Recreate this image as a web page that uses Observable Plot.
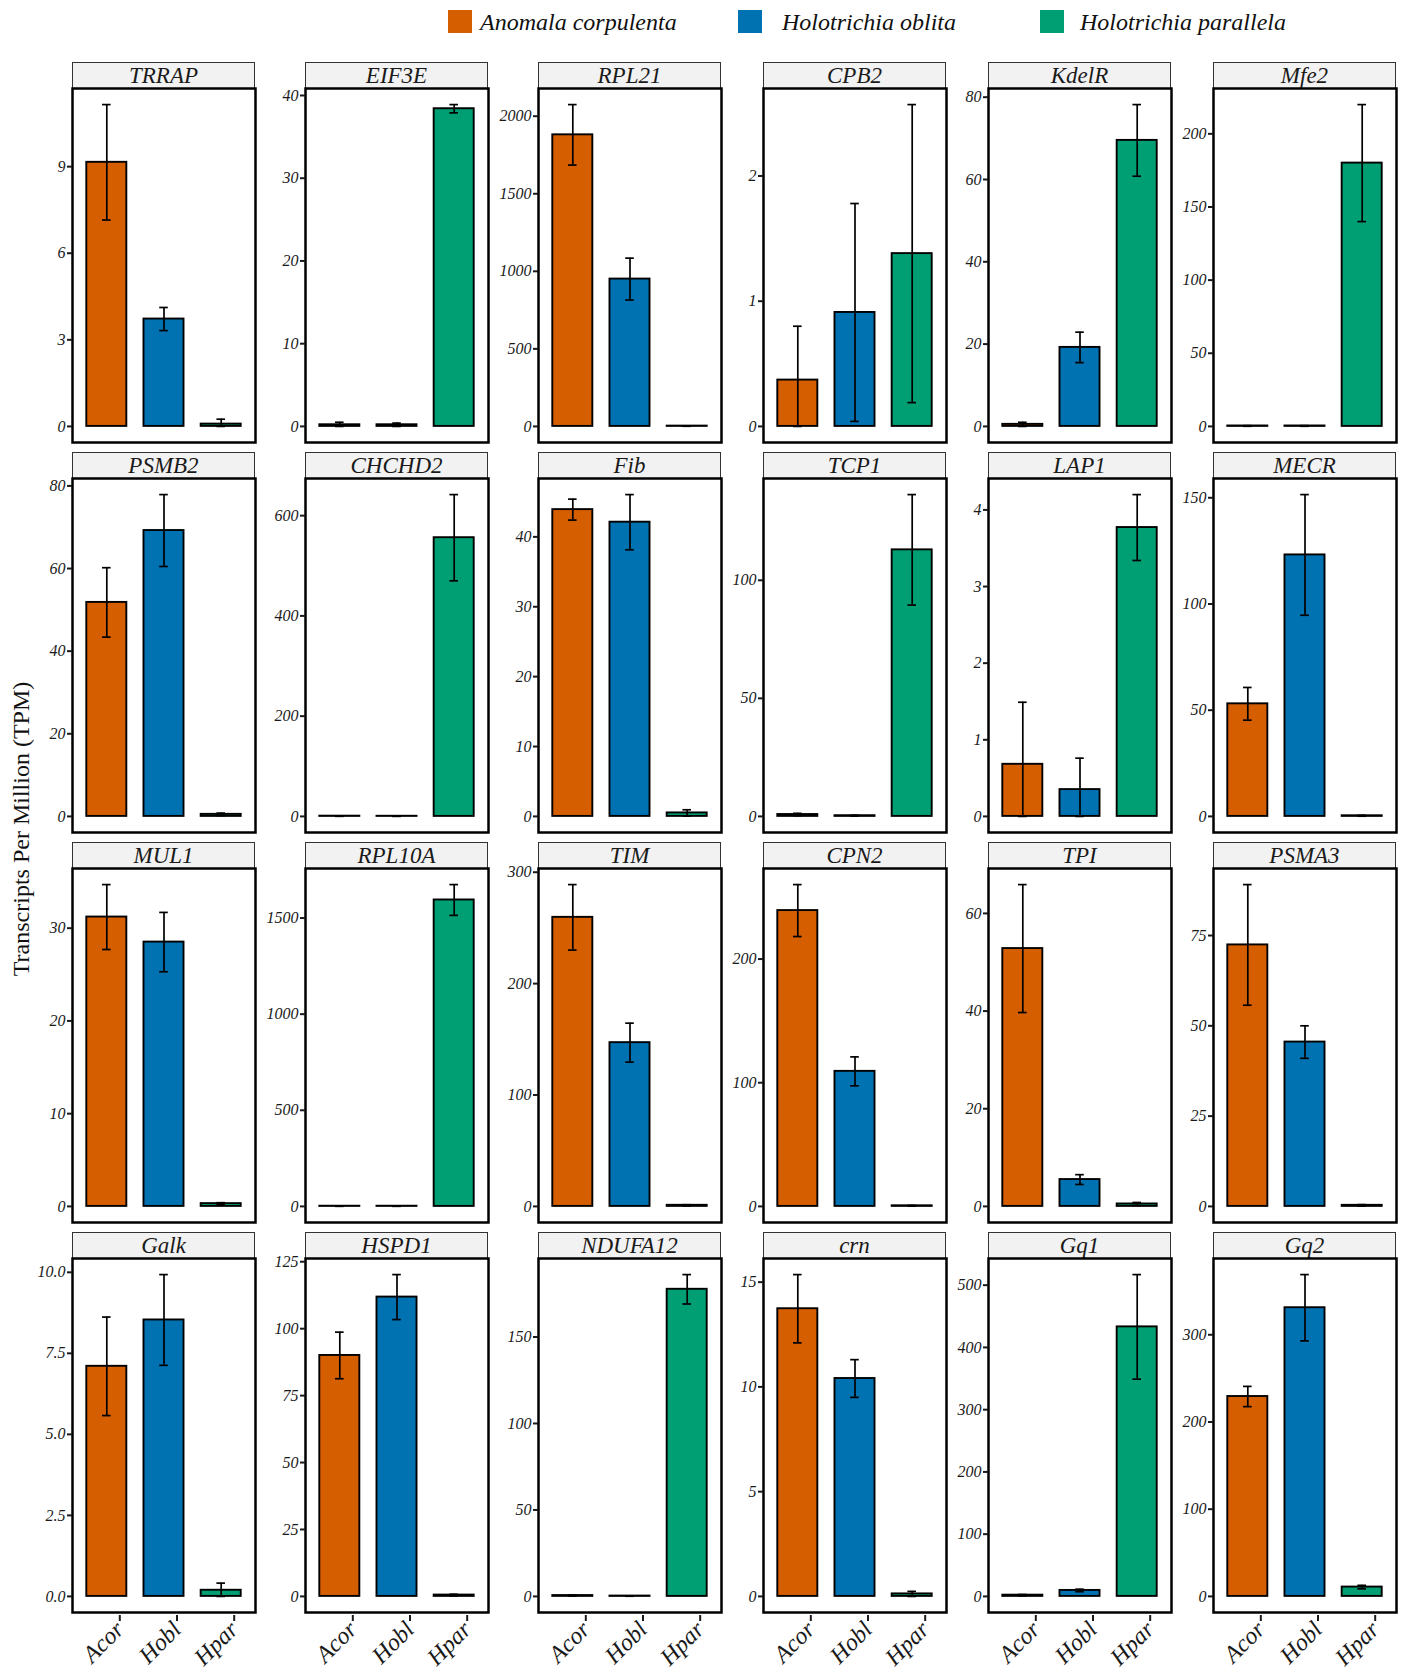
<!DOCTYPE html>
<html><head><meta charset="utf-8">
<script src="https://cdn.jsdelivr.net/npm/d3@7"></script>
<script src="https://cdn.jsdelivr.net/npm/@observablehq/plot@0.6"></script>
<style>
body{margin:0;background:#fff;}
#root{position:relative;width:1406px;height:1674px;background:#fff;font-family:"Liberation Serif","Times New Roman",serif;overflow:hidden;}
.strip{position:absolute;box-sizing:border-box;border:1px solid #333;background:#f2f2f2;text-align:center;font-style:italic;font-size:23px;line-height:25px;color:#1a1a1a;}
.panel{position:absolute;}
.panel svg{max-width:none;overflow:visible;}
.leg-key{position:absolute;width:24px;height:23px;}
.leg-txt{position:absolute;font-style:italic;font-size:24px;line-height:24px;color:#111;white-space:nowrap;}
.ytitle{position:absolute;font-size:24px;white-space:nowrap;color:#111;transform:translate(-50%,-50%) rotate(-90deg);}
</style></head><body><div id="root"></div>
<script>
// ---- data ----
const genes = ["TRRAP","EIF3E","RPL21","CPB2","KdelR","Mfe2",
               "PSMB2","CHCHD2","Fib","TCP1","LAP1","MECR",
               "MUL1","RPL10A","TIM","CPN2","TPI","PSMA3",
               "Galk","HSPD1","NDUFA12","crn","Gq1","Gq2"];
const speciesShort = ["Acor","Hobl","Hpar"];
const speciesFull = ["Anomala corpulenta","Holotrichia oblita","Holotrichia parallela"];
const speciesColors = ["#D55E00","#0072B2","#009E73"];

const acorMean = [9.15,0.2,1880,0.37,0.5,0.3, 51.8,0.5,43.9,0.8,0.68,53.0, 31.2,1,259.5,239.2,52.8,72.4, 7.1,90.0,0.5,13.73,2,229.2];
const acorSE   = [2.0,0.3,195,0.43,0.5,0.2, 8.4,0.3,1.5,0.5,0.81,7.7, 3.5,0.5,29.4,21,13.1,16.7, 1.52,8.7,0.3,1.63,1,11.6];
const hoblMean = [3.72,0.2,950,0.91,19.2,0.3, 69.2,0.3,42.1,0.3,0.35,123.1, 28.5,1,147,109.2,5.5,45.5, 8.53,111.8,0.2,10.4,9.6,331];
const hoblSE   = [0.4,0.2,135,0.87,3.7,0.2, 8.7,0.2,3.95,0.2,0.41,28.4, 3.2,0.5,17.5,11.7,1.0,4.5, 1.4,8.4,0.1,0.9,2,38];
const hparMean = [0.08,38.4,2,1.38,69.5,180, 0.5,556,0.5,112.9,3.77,0.3, 0.3,1594,1,0.5,0.5,0.3, 0.19,0.5,177.6,0.12,433,10.7];
const hparSE   = [0.17,0.5,1,1.19,8.7,40, 0.3,86,0.45,23.4,0.43,0.2, 0.1,80,0.5,0.3,0.3,0.2, 0.22,0.3,8.5,0.12,84,2];

const yTicks = [[0,3,6,9],[0,10,20,30,40],[0,500,1000,1500,2000],[0,1,2],[0,20,40,60,80],[0,50,100,150,200],
                [0,20,40,60,80],[0,200,400,600],[0,10,20,30,40],[0,50,100],[0,1,2,3,4],[0,50,100,150],
                [0,10,20,30],[0,500,1000,1500],[0,100,200,300],[0,100,200],[0,20,40,60],[0,25,50,75],
                [0,2.5,5,7.5,10],[0,25,50,75,100,125],[0,50,100,150],[0,5,10,15],[0,100,200,300,400,500],[0,100,200,300]];

const yTitle = "Transcripts Per Million (TPM)";

// ---- layout ----
const root = document.getElementById("root");
const colLeft = [72,305,538,763,988,1213];
const panelW = 183, panelH = 354, stripH = 26, rowPitch = 390, firstStrip = 62;
const mL = 60, mR = 4, mT = 12;

// legend
const legKeyX = [448,738,1040], legTxtX = [480,782,1080];
speciesFull.forEach((name,k)=>{
  const sq = document.createElement("div");
  sq.className = "leg-key"; sq.style.left = legKeyX[k]+"px"; sq.style.top = "10px";
  sq.style.background = speciesColors[k];
  root.appendChild(sq);
  const t = document.createElement("div");
  t.className = "leg-txt"; t.style.left = legTxtX[k]+"px"; t.style.top = "10px";
  t.textContent = name;
  root.appendChild(t);
});

// y title
const yt = document.createElement("div");
yt.className = "ytitle"; yt.style.left = "21px"; yt.style.top = "829px";
yt.textContent = yTitle;
root.appendChild(yt);

genes.forEach((gene,g)=>{
  const r = Math.floor(g/6), c = g%6;
  const stripTop = firstStrip + r*rowPitch;
  const panelTop = stripTop + stripH;
  const bottomRow = r === 3;

  const means = [acorMean[g], hoblMean[g], hparMean[g]];
  const ses = [acorSE[g], hoblSE[g], hparSE[g]];
  const rows = speciesShort.map((s,k)=>({
    i: k+1, species: s, mean: means[k], se: ses[k],
    lo: Math.max(0, means[k]-ses[k]), hi: means[k]+ses[k]
  }));
  const lo = Math.min(0, d3.min(rows, d=>d.lo));
  const hi = d3.max(rows, d=>d.hi);
  const pad = 0.05*(hi-lo);
  const ticks = yTicks[g];
  const decimals = ticks.some(t=>!Number.isInteger(t)) ? 1 : 0;

  const mB = bottomRow ? 70 : 4;
  const marks = [
    Plot.rect(rows, {x1: d=>d.i-0.35, x2: d=>d.i+0.35, y1: 0, y2: "mean", fill: "species", stroke: "black", strokeWidth: 1.9}),
    Plot.ruleX(rows, {x: "i", y1: "lo", y2: "hi", stroke: "black", strokeWidth: 1.7}),
    Plot.ruleY(rows, {y: "hi", x1: d=>d.i-0.075, x2: d=>d.i+0.075, stroke: "black", strokeWidth: 1.7}),
    Plot.ruleY(rows, {y: "lo", x1: d=>d.i-0.075, x2: d=>d.i+0.075, stroke: "black", strokeWidth: 1.7}),
    Plot.frame({stroke: "black", strokeWidth: 2.5}),
    Plot.axisY({ticks, tickFormat: d=>d.toFixed(decimals), tickSize: 5, tickPadding: 2, strokeWidth: 2, fontSize: 16, label: null})
  ];
  if (bottomRow) {
    marks.push(Plot.axisX({ticks: [1,2,3], tickFormat: d=>speciesShort[d-1], tickSize: 6, strokeWidth: 2,
      tickRotate: -45, fontSize: 24, tickPadding: 4, dx: 13, dy: 3, label: null}));
  }
  const chart = Plot.plot({
    width: mL + panelW + mR,
    height: mT + panelH + mB,
    marginLeft: mL, marginRight: mR, marginTop: mT, marginBottom: mB,
    x: {domain: [0.4, 3.6], axis: null, label: null},
    y: {domain: [lo-pad, hi+pad], axis: null, label: null},
    color: {domain: speciesShort, range: speciesColors},
    style: {fontFamily: "'Liberation Serif','Times New Roman',serif", fontStyle: "italic", background: "transparent", color: "#1a1a1a", overflow: "visible"},
    marks
  });
  const wrap = document.createElement("div");
  wrap.className = "panel";
  wrap.style.left = (colLeft[c]-mL)+"px";
  wrap.style.top = (panelTop-mT)+"px";
  wrap.appendChild(chart);

  const strip = document.createElement("div");
  strip.className = "strip";
  strip.style.left = colLeft[c]+"px"; strip.style.top = stripTop+"px";
  strip.style.width = panelW+"px"; strip.style.height = (stripH+1)+"px";
  strip.textContent = gene;
  root.appendChild(strip);
  root.appendChild(wrap);
});
</script></body></html>
